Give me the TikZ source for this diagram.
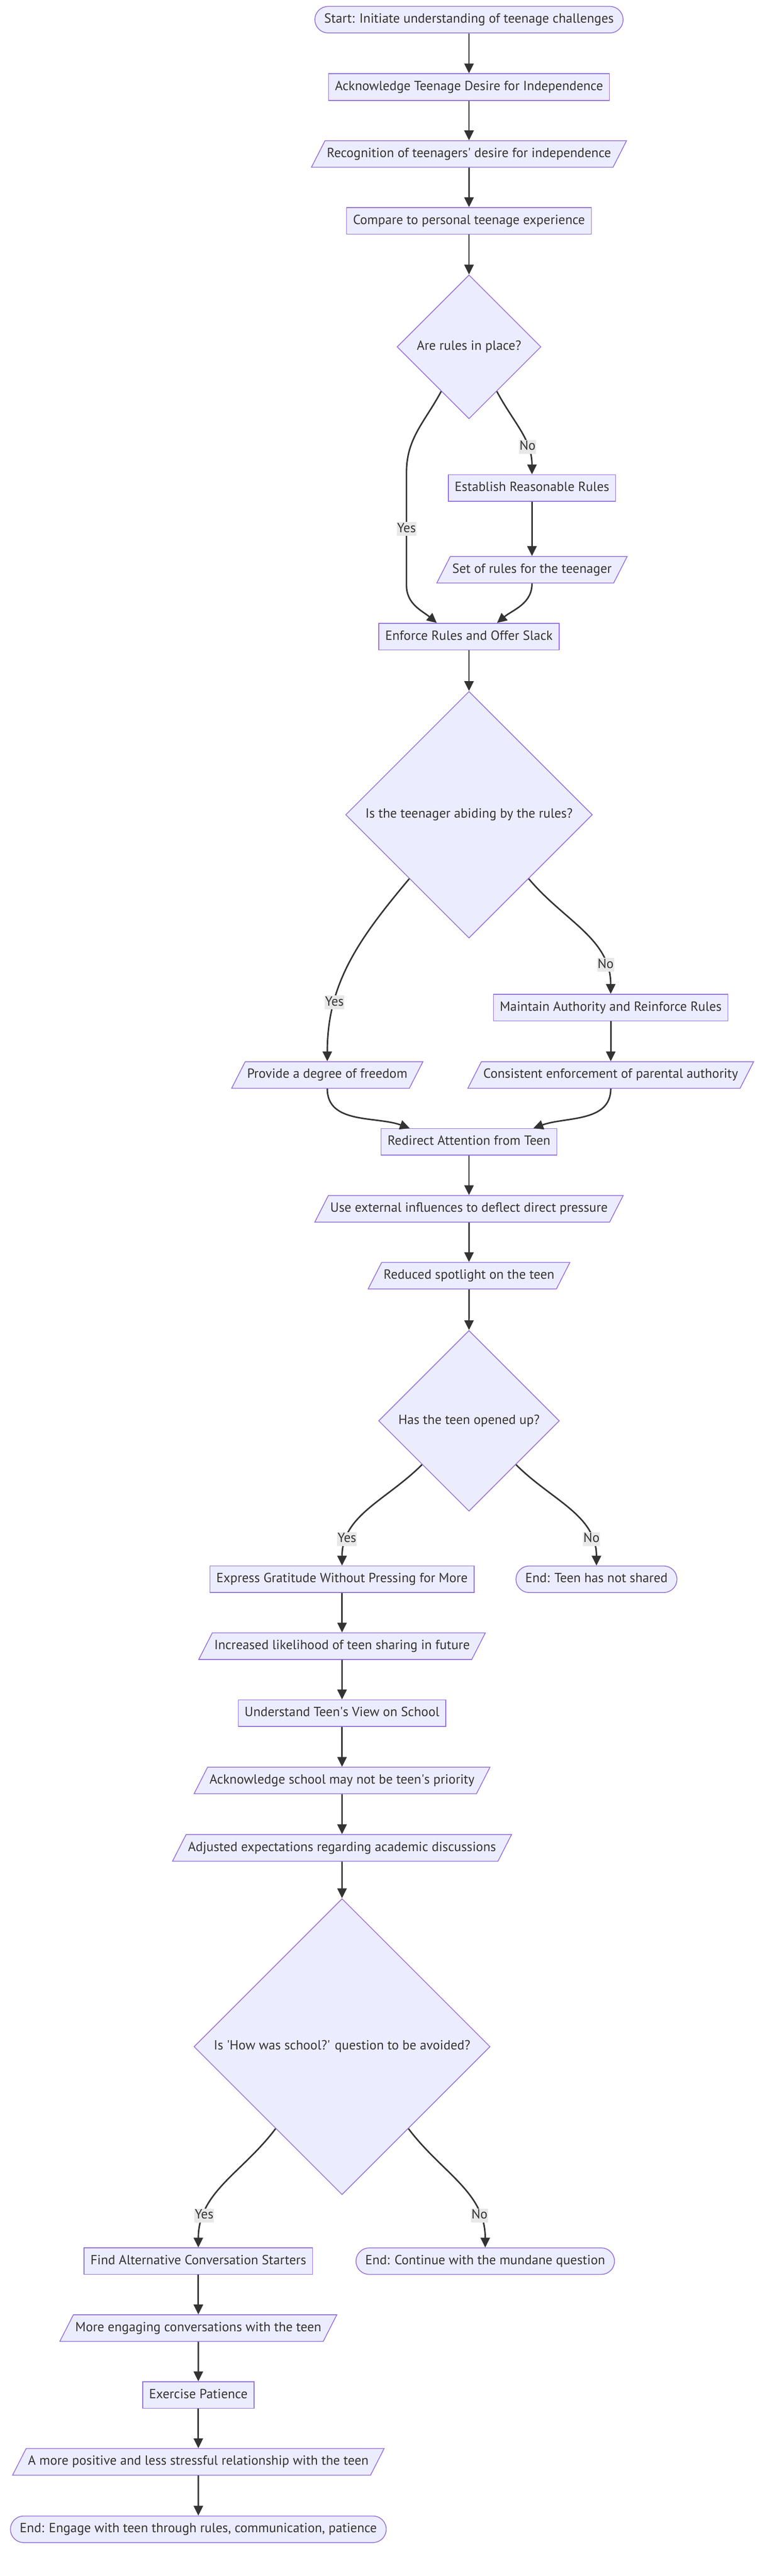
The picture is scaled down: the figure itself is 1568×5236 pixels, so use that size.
\documentclass[tikz,border=0pt]{standalone}
\usepackage{fontspec}
\setmainfont{PT Sans}
\usepackage{tikz}
\usetikzlibrary{arrows.meta,shapes.geometric}
\usepackage{xcolor}
\definecolor{nodefill}{HTML}{ECECFF}
\definecolor{nodeline}{HTML}{9370DB}
\definecolor{ink}{HTML}{333333}
\definecolor{lblbg}{HTML}{E8E8E8}
\newcommand{\sq}{\textquotesingle}

\begin{document}
\begin{tikzpicture}[x=1pt,y=-1pt,
every node/.style={font=\fontsize{27}{32}\selectfont,text=ink,text height=20pt,text depth=6.5pt},
box/.style={draw=nodeline,fill=nodefill,line width=1.6pt,inner xsep=13pt,inner ysep=13.75pt},
io/.style={box,trapezium,trapezium left angle=63,trapezium right angle=117,inner xsep=4pt},
term/.style={box,rounded corners=27pt,inner xsep=19pt},
ask/.style={box,diamond,aspect=1,inner sep=13.5pt},
lbl/.style={fill=lblbg,inner sep=1pt},
flow/.style={->,>={Triangle[length=20pt,width=19pt]},color=ink,line width=3pt}]
\useasboundingbox (0,0) rectangle (1568,5236);
\node[term] (A) at (953,40) {Start: Initiate understanding of teenage challenges};
\node[box] (B) at (953,177) {Acknowledge Teenage Desire for Independence};
\node[io] (C) at (953,313) {Recognition of teenagers\sq{} desire for independence};
\node[box] (D) at (953,449) {Compare to personal teenage experience};
\node[ask] (E) at (953,705) {Are rules in place?};
\node[box] (F) at (1081,992) {Establish Reasonable Rules};
\node[io] (G) at (1081,1158) {Set of rules for the teenager};
\node[box] (H) at (953,1294) {Enforce Rules and Offer Slack};
\node[ask] (I) at (953,1656) {Is the teenager abiding by the rules?};
\node[box] (J) at (1241,2048) {Maintain Authority and Reinforce Rules};
\node[io] (K) at (665,2185) {Provide a degree of freedom};
\node[io] (L) at (1241,2185) {Consistent enforcement of parental authority};
\node[box] (M) at (953,2321) {Redirect Attention from Teen};
\node[io] (N) at (953,2457) {Use external influences to deflect direct pressure};
\node[io] (O) at (953,2593) {Reduced spotlight on the teen};
\node[ask] (P) at (953,2888) {Has the teen opened up?};
\node[box] (Q) at (695,3210) {Express Gratitude Without Pressing for More};
\node[term] (R) at (1212,3210) {End: Teen has not shared};
\node[io] (S) at (695,3346) {Increased likelihood of teen sharing in future};
\node[box] (T) at (695,3482) {Understand Teen\sq{}s View on School};
\node[io] (U) at (695,3619) {Acknowledge school may not be teen\sq{}s priority};
\node[io] (V) at (695,3756) {Adjusted expectations regarding academic discussions};
\node[ask] (W) at (695,4160) {Is \sq{}How was school?\sq{} question to be avoided?};
\node[box] (X) at (403,4596) {Find Alternative Conversation Starters};
\node[term] (Y) at (986,4596) {End: Continue with the mundane question};
\node[io] (Z) at (403,4732) {More engaging conversations with the teen};
\node[box] (A') at (403,4868) {Exercise Patience};
\node[io] (B') at (403,5004) {A more positive and less stressful relationship with the teen};
\node[term] (C') at (403,5141) {End: Engage with teen through rules, communication, patience};
\coordinate (Ey1) at (826,960);
\coordinate (Ey2) at (826,1190);
\draw[flow] (E.-122) to[out=-118,in=90] (Ey1) -- node[lbl]{Yes} (Ey2) to[out=-90,in=140] (H.157);
\path[flow]
(A) edge (B)
(B) edge (C)
(C) edge (D)
(D) edge (E)
(E.-58) edge[out=-62,in=90] node[lbl,pos=0.7]{No} (F.north)
(F) edge (G)
(G.south) edge[out=-90,in=40] (H.26)
(H) edge (I)
(I.-133) edge[out=-130,in=90] node[lbl,pos=0.72]{Yes} (K.north)
(I.-47) edge[out=-50,in=90] node[lbl,pos=0.8]{No} (J.north)
(J) edge (L)
(K.south) edge[out=-90,in=160] (M.167)
(L.south) edge[out=-90,in=20] (M.12)
(M) edge (N)
(N) edge (O)
(O) edge (P)
(P.-137) edge[out=-135,in=90] node[lbl,pos=0.8]{Yes} (Q.north)
(P.-43) edge[out=-45,in=90] node[lbl,pos=0.8]{No} (R.north)
(Q) edge (S)
(S) edge (T)
(T) edge (U)
(U) edge (V)
(V) edge (W)
(W.-129) edge[out=-127,in=90] node[lbl,pos=0.78]{Yes} (X.north)
(W.-51) edge[out=-53,in=90] node[lbl,pos=0.78]{No} (Y.north)
(X) edge (Z)
(Z) edge (A')
(A') edge (B')
(B') edge (C');
\end{tikzpicture}
\end{document}
